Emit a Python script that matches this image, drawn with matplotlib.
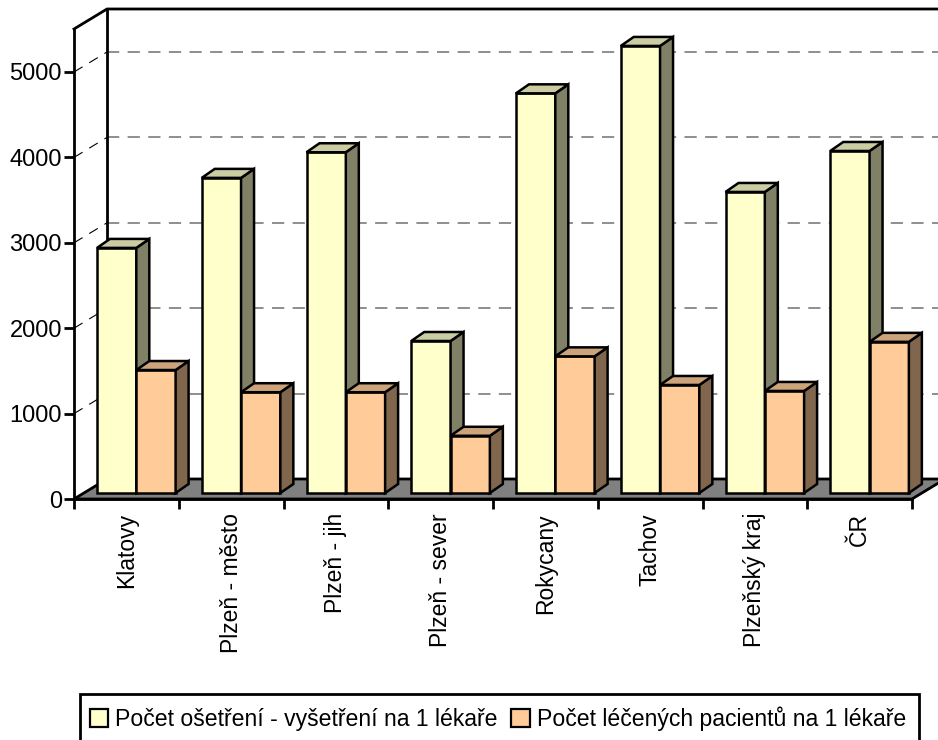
import numpy as np
import matplotlib
matplotlib.use('Agg')
import matplotlib.pyplot as plt
from matplotlib.patches import Polygon, Rectangle

plt.rcParams['font.family'] = ['Liberation Sans', 'DejaVu Sans']

# Data
categories = ['Klatovy', 'Plzeň - město', 'Plzeň - jih', 'Plzeň - sever',
              'Rokycany', 'Tachov', 'Plzeňský kraj', 'ČR']
osetreni = [2870, 3690, 3990, 1780, 4680, 5235, 3525, 4005]
pacienti = [1440, 1180, 1180, 670, 1600, 1265, 1195, 1770]
y_ticks = [0, 1000, 2000, 3000, 4000, 5000]
legend_labels = ['Počet ošetření - vyšetření na 1 lékaře',
                 'Počet léčených pacientů na 1 lékaře']

# Pixel scale of the plot box
W, H = 938, 740
left, right, base, top = 74, 912, 499, 29
px_x = (right - left) / len(categories)
px_y = 0.0854

fig = plt.figure(figsize=(W / 100, H / 100), dpi=100, facecolor='white')
ax = fig.add_axes([left / W, (H - base) / H, (right - left) / W, (base - top) / H])
xmax = len(categories)
ymax = (base - top) / px_y
ax.patch.set_visible(False)

# depth offsets in data units
wall_dx = 33 / px_x
wall_dy = 20 / px_y
bar_x0 = 23 / px_x
bar_y0 = 6 / px_y
bar_w = 39.3 / px_x
bar_dx = 13 / px_x
bar_dy = 9 / px_y
edge = 'black'
lw = 2.0
bar_lw = 1.8

# floor
ax.add_patch(Polygon([(0, 0), (wall_dx, wall_dy), (xmax + wall_dx, wall_dy), (xmax, 0)],
                     closed=True, facecolor='#808080', edgecolor=edge, lw=lw,
                     clip_on=False, zorder=1))

# back wall grid + dashes on the side wall
for v in y_ticks[1:]:
    ax.plot([wall_dx, xmax + wall_dx], [v + wall_dy, v + wall_dy], color='#707070',
            lw=1.1, dashes=(8, 5.5), clip_on=False, zorder=1)
    ax.plot([0, wall_dx], [v, v + wall_dy], color='black', lw=0.8,
            dashes=(9, 7), clip_on=False, zorder=1)

# walls
ax.plot([wall_dx, wall_dx], [wall_dy, ymax + wall_dy], color=edge, lw=lw, clip_on=False, zorder=1.5)
ax.plot([0, wall_dx, xmax + wall_dx], [ymax, ymax + wall_dy, ymax + wall_dy], color=edge, lw=lw,
        clip_on=False, zorder=1.5)


def draw_bar(x, value, front, side, roof, z):
    ax.bar(x, value, bar_w, bottom=bar_y0, align='edge', facecolor=front,
           edgecolor=edge, lw=bar_lw, clip_on=False, zorder=z)
    t = value + bar_y0
    ax.add_patch(Polygon([(x + bar_w, bar_y0), (x + bar_w + bar_dx, bar_y0 + bar_dy),
                          (x + bar_w + bar_dx, t + bar_dy), (x + bar_w, t)],
                         closed=True, facecolor=side, edgecolor=edge, lw=bar_lw,
                         clip_on=False, zorder=z))
    ax.add_patch(Polygon([(x, t), (x + bar_dx, t + bar_dy),
                          (x + bar_w + bar_dx, t + bar_dy), (x + bar_w, t)],
                         closed=True, facecolor=roof, edgecolor=edge, lw=bar_lw,
                         clip_on=False, zorder=z))


for i in range(len(categories)):
    draw_bar(i + bar_x0, osetreni[i], '#FFFFCC', '#808066', '#CCCCA3', 2 + i)
    draw_bar(i + bar_x0 + bar_w, pacienti[i], '#FFCC99', '#80664D', '#CCA37A', 2.5 + i)

ax.set_xlim(0, xmax)
ax.set_ylim(0, ymax)

# axes
for s in ['top', 'right']:
    ax.spines[s].set_visible(False)
for s in ['left', 'bottom']:
    ax.spines[s].set_linewidth(lw)
    ax.spines[s].set_zorder(20)

ax.set_yticks(y_ticks)
ax.set_xticks(np.arange(len(categories) + 1))
ax.set_xticklabels([])
ax.set_xticks(np.arange(len(categories)) + 0.5, minor=True)
ax.set_xticklabels(categories, minor=True, rotation=90, ha='center', va='top')
ax.tick_params(axis='both', which='major', length=7.2, width=lw, labelsize=17, pad=1.5)
ax.tick_params(axis='x', which='minor', length=0, labelsize=16.5, pad=10)

# legend box runs off the bottom of the picture, so its frame is drawn by hand
fig.add_artist(Rectangle((80 / W, -10 / H), 839 / W, (H - 694 + 10) / H, transform=fig.transFigure,
                         facecolor='white', edgecolor='black', lw=lw))
h1 = plt.Rectangle((0, 0), 1, 1, facecolor='#FFFFCC', edgecolor=edge, lw=1.6)
h2 = plt.Rectangle((0, 0), 1, 1, facecolor='#FFCC99', edgecolor=edge, lw=1.6)
leg = fig.legend([h1, h2], legend_labels, ncol=2, loc='upper left',
                 bbox_to_anchor=(80 / W, 1 - 697 / H), bbox_transform=fig.transFigure,
                 fontsize=16.6, frameon=False,
                 handlelength=0.8, handleheight=0.8, handletextpad=0.3, columnspacing=0.6,
                 borderpad=0.42, borderaxespad=0)
leg.set_zorder(5)

fig.savefig('out.png', dpi=100)
